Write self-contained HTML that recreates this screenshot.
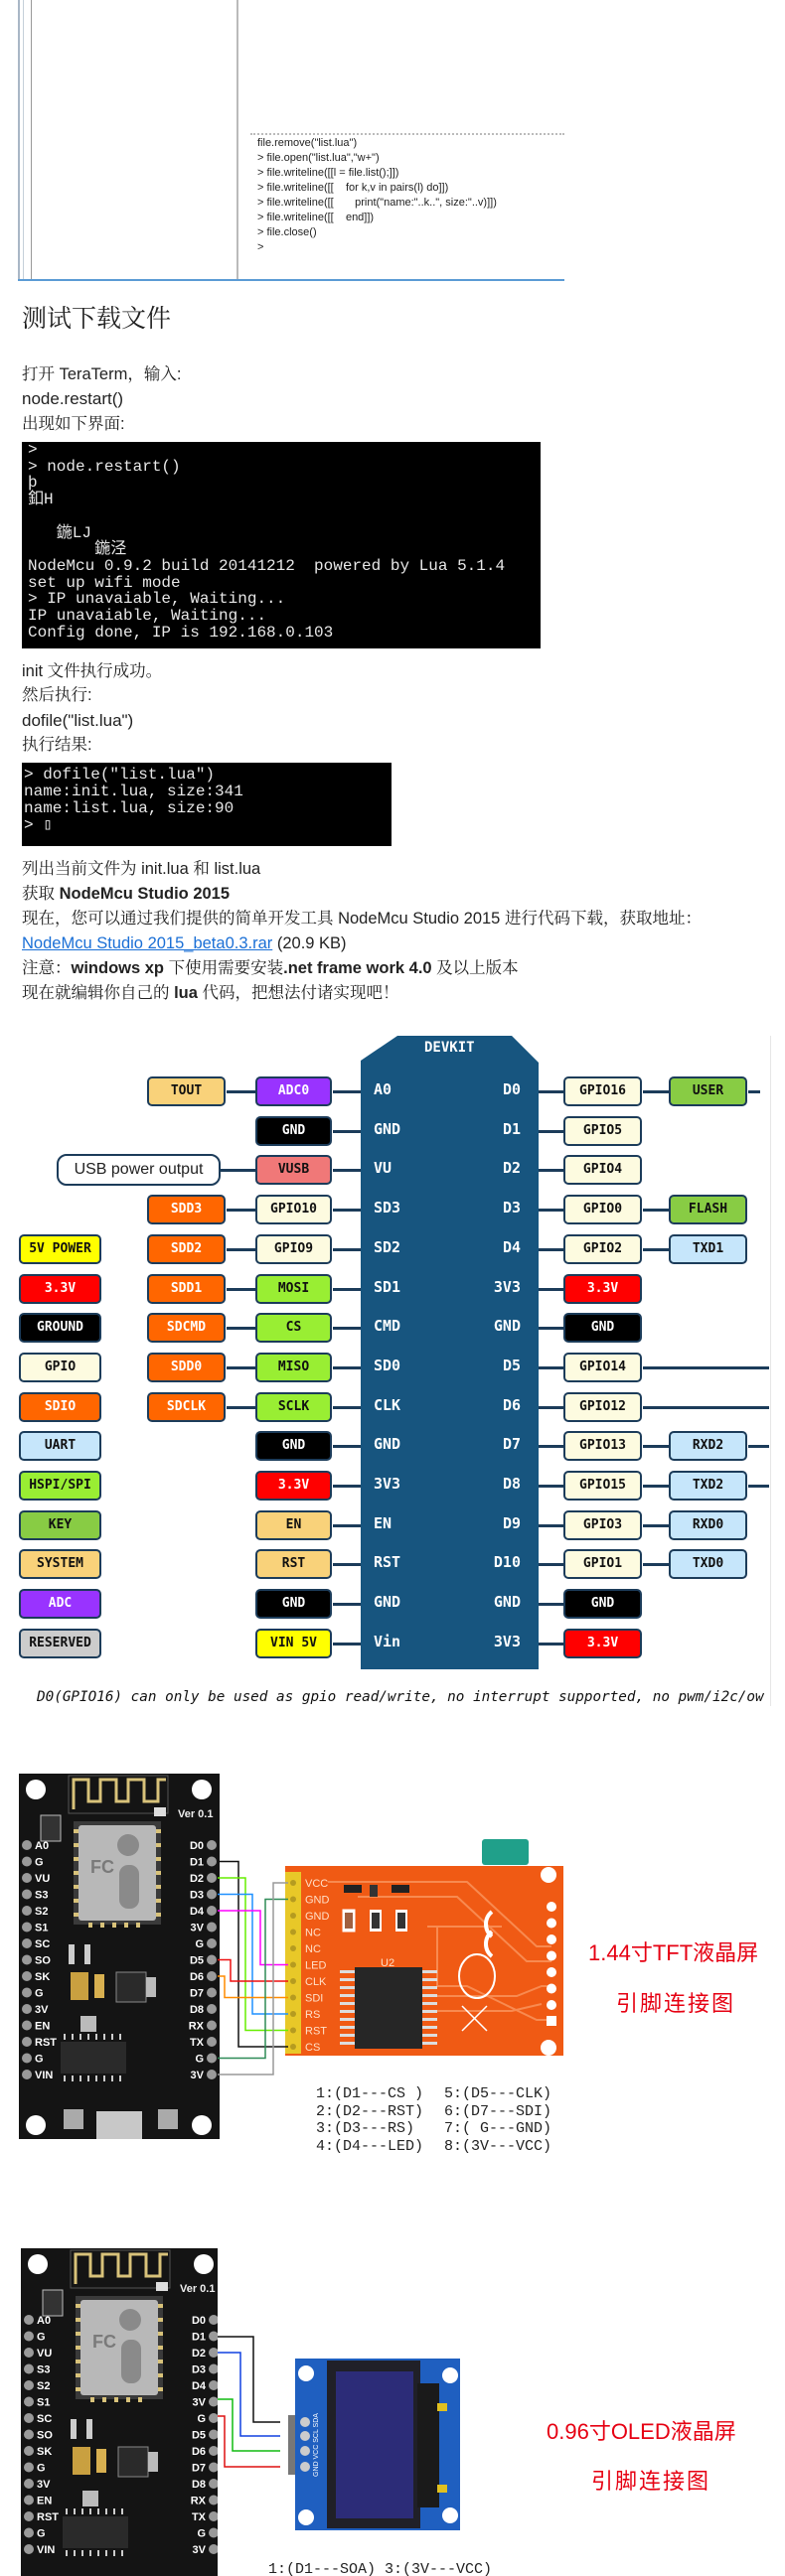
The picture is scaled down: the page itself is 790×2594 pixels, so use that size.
<!DOCTYPE html>
<html><head><meta charset="utf-8">
<style>
html,body{margin:0;padding:0;background:#fff;}
body{width:790px;height:2594px;position:relative;overflow:hidden;font-family:"Liberation Sans","Noto Serif CJK SC",serif;color:#222;}
.a{position:absolute;white-space:nowrap;}
.t{font-size:16.5px;font-family:"Liberation Sans","Noto Serif CJK SC",serif;line-height:20px;}
.term{position:absolute;background:#000;color:#e8e8e8;font-family:"Liberation Mono",monospace;font-size:16px;white-space:pre;overflow:hidden;}
.b{position:absolute;height:26px;border:2.5px solid #1c3c5a;border-radius:5px;font:bold 13px "DejaVu Sans Mono",monospace;text-align:center;line-height:26px;color:#111;}
.w{color:#fff;}
.ln{position:absolute;height:3px;background:#1c3c5a;}
.pl{position:absolute;font:bold 15px "DejaVu Sans Mono",monospace;color:#fff;}
.code{position:absolute;font:11px "Liberation Sans",sans-serif;color:#222;line-height:15px;white-space:pre;}
</style></head><body>

<!-- top editor fragment -->
<div class="a" style="left:18px;top:0;width:2px;height:282px;background:#a9b7c6"></div>
<div class="a" style="left:23px;top:0;width:1px;height:282px;background:#c5cfd9"></div>
<div class="a" style="left:31px;top:0;width:1px;height:282px;background:#999"></div>
<div class="a" style="left:238px;top:0;width:2px;height:282px;background:#bbb"></div>
<div class="a" style="left:252px;top:134px;width:316px;height:0;border-top:2px dotted #bbb"></div>
<div class="code" style="left:259px;top:137px;">file.remove("list.lua")
&gt; file.open("list.lua","w+")
&gt; file.writeline([[l = file.list();]])
&gt; file.writeline([[    for k,v in pairs(l) do]])
&gt; file.writeline([[       print("name:"..k..", size:"..v)]])
&gt; file.writeline([[    end]])
&gt; file.close()
&gt;</div>
<div class="a" style="left:18px;top:281px;width:550px;height:2px;background:#5b9bd5"></div>

<div class="a" style="left:22px;top:302px;font-size:25px;font-family:'Noto Serif CJK SC',serif;line-height:34px;">测试下载文件</div>
<div class="a t" style="left:22px;top:367px;">打开 TeraTerm，输入:</div>
<div class="a" style="left:22px;top:392px;font-size:17px;">node.restart()</div>
<div class="a t" style="left:22px;top:417px;">出现如下界面:</div>
<div class="term" style="left:22px;top:445px;width:522px;height:208px;line-height:16.7px;padding-left:6px;box-sizing:border-box;">&gt;
&gt; node.restart()
þ
釦H

   鍦LJ
       鍦泾
NodeMcu 0.9.2 build 20141212  powered by Lua 5.1.4
set up wifi mode
&gt; IP unavaiable, Waiting...
IP unavaiable, Waiting...
Config done, IP is 192.168.0.103</div>
<div class="a t" style="left:22px;top:666px;">init 文件执行成功。</div>
<div class="a t" style="left:22px;top:690px;">然后执行:</div>
<div class="a" style="left:22px;top:716px;font-size:17px;">dofile("list.lua")</div>
<div class="a t" style="left:22px;top:740px;">执行结果:</div>
<div class="term" style="left:22px;top:768px;width:372px;height:84px;line-height:17px;padding:4px 0 0 2px;box-sizing:border-box;">&gt; dofile("list.lua")
name:init.lua, size:341
name:list.lua, size:90
&gt; ▯</div>
<div class="a t" style="left:22px;top:865px;">列出当前文件为 init.lua 和 list.lua</div>
<div class="a t" style="left:22px;top:890px;">获取 <b>NodeMcu Studio 2015</b></div>
<div class="a t" style="left:22px;top:915px;">现在，您可以通过我们提供的简单开发工具 NodeMcu Studio 2015 进行代码下载，获取地址：</div>
<div class="a t" style="left:22px;top:940px;"><span style="color:#1a6fd6;text-decoration:underline">NodeMcu Studio 2015_beta0.3.rar</span> (20.9 KB)</div>
<div class="a t" style="left:22px;top:965px;">注意：<b>windows xp</b> 下使用需要安装<b>.net frame work 4.0</b> 及以上版本</div>
<div class="a t" style="left:22px;top:990px;">现在就编辑你自己的 <b>lua</b> 代码，把想法付诸实现吧！</div>

<!-- DEVKIT diagram -->
<div class="a" style="left:775px;top:1043px;width:1px;height:675px;background:#e6e6e6"></div>
<svg class="a" style="left:0;top:0" width="790" height="2594">
<polygon points="363,1068 400,1043 515,1043 542,1070 542,1681 363,1681" fill="#17557f"/>
</svg>
<div class="pl" style="left:427px;top:1047px;font-size:14px;">DEVKIT</div>

<div id="dk"></div>

<div class="a" style="left:37px;top:1701px;width:737px;overflow:hidden;font:italic 14.3px 'DejaVu Sans Mono',monospace;color:#111;">D0(GPIO16) can only be used as gpio read/write, no interrupt supported, no pwm/i2c/ow</div>

<script>
(function(){
var y0=1099,st=39.7,h='';
function box(x,w,y,bg,txt,white){h+='<div class="b'+(white?' w':'')+'" style="left:'+x+'px;top:'+(y-15)+'px;width:'+(w-5)+'px;background:'+bg+'">'+txt+'</div>';}
function ln(x1,x2,y){h+='<div class="ln" style="left:'+x1+'px;top:'+(y-1.5)+'px;width:'+(x2-x1)+'px"></div>';}
var CR='#fdfbe0',OR='#ff6600',GR='#99ee33',PE='#f9d27a',K='#88cc44',LB='#c6e6fb',Y='#ffff00',RD='#ff0000',BK='#000',PU='#9933ff';
var L=[[null,['TOUT',PE],['ADC0',PU,1]],[null,null,['GND',BK,1]],[null,null,['VUSB','#f07878']],
[null,['SDD3',OR,1],['GPIO10',CR]],[['5V POWER',Y],['SDD2',OR,1],['GPIO9',CR]],[['3.3V',RD,1],['SDD1',OR,1],['MOSI',GR]],
[['GROUND',BK,1],['SDCMD',OR,1],['CS',GR]],[['GPIO',CR],['SDD0',OR,1],['MISO',GR]],[['SDIO',OR,1],['SDCLK',OR,1],['SCLK',GR]],
[['UART',LB],null,['GND',BK,1]],[['HSPI/SPI',GR],null,['3.3V',RD,1]],[['KEY',K],null,['EN',PE]],[['SYSTEM',PE],null,['RST',PE]],
[['ADC',PU,1],null,['GND',BK,1]],[['RESERVED','#cccccc'],null,['VIN 5V',Y]]];
var LP=['A0','GND','VU','SD3','SD2','SD1','CMD','SD0','CLK','GND','3V3','EN','RST','GND','Vin'];
var RP=['D0','D1','D2','D3','D4','3V3','GND','D5','D6','D7','D8','D9','D10','GND','3V3'];
var RG=[['GPIO16',CR],['GPIO5',CR],['GPIO4',CR],['GPIO0',CR],['GPIO2',CR],['3.3V',RD,1],['GND',BK,1],['GPIO14',CR],['GPIO12',CR],['GPIO13',CR],['GPIO15',CR],['GPIO3',CR],['GPIO1',CR],['GND',BK,1],['3.3V',RD,1]];
var RO={0:['USER',K],3:['FLASH',K],4:['TXD1',LB],9:['RXD2',LB],10:['TXD2',LB],11:['RXD0',LB],12:['TXD0',LB]};
for(var i=0;i<15;i++){var y=Math.round(y0+st*i),r=L[i];
 if(r[1]){ln(228,257,y);}
 if(i==2){ln(222,257,y);}
 ln(335,363,y);ln(542,567,y);
 if(RO[i]){ln(647,673,y);}
 if(i==0)ln(753,765,y);
 if(i==7||i==8)ln(647,774,y);
 if(i==9||i==10)ln(753,774,y);
 if(r[0])box(19,84,y,r[0][1],r[0][0],r[0][2]);
 if(r[1])box(148,80,y,r[1][1],r[1][0],r[1][2]);
 box(257,78,y,r[2][1],r[2][0],r[2][2]);
 box(567,80,y,RG[i][1],RG[i][0],RG[i][2]);
 if(RO[i])box(673,80,y,RO[i][1],RO[i][0],RO[i][2]);
 h+='<div class="pl" style="left:376px;top:'+(y-11)+'px">'+LP[i]+'</div>';
 h+='<div class="pl" style="left:460px;width:64px;text-align:right;top:'+(y-11)+'px">'+RP[i]+'</div>';
}
h+='<div class="a" style="left:57px;top:'+(Math.round(y0+st*2)-16)+'px;width:161px;height:28px;border:2.5px solid #1c3c5a;border-radius:10px;background:#fff;font:16px \'Liberation Sans\',sans-serif;text-align:center;line-height:28px;">USB power output</div>';
document.getElementById('dk').outerHTML=h;
})();
</script>

<!-- boards -->
<svg class="a" style="left:0;top:0" width="790" height="2594" font-family="Liberation Sans,sans-serif">
<defs>
<g id="board">
<rect x="0" y="0" width="202" height="380" fill="#141414"/>
<circle cx="17" cy="16" r="10" fill="#fff"/><circle cx="184" cy="16" r="10" fill="#fff"/>
<circle cx="17" cy="354" r="10" fill="#fff"/><circle cx="184" cy="354" r="10" fill="#fff"/>
<rect x="50" y="2" width="100" height="38" fill="none" stroke="#555" stroke-width="1"/>
<path d="M55 36 V6 H70 V28 H82 V6 H98 V28 H110 V6 H126 V28 H140 V6 H148" fill="none" stroke="#d8c27a" stroke-width="3"/>
<text x="160" y="44" fill="#eee" font-size="11" font-weight="bold">Ver 0.1</text>
<rect x="136" y="34" width="12" height="9" fill="#ddd"/>
<rect x="22" y="42" width="20" height="26" fill="#333" stroke="#bbb"/>
<rect x="55" y="48" width="88" height="104" fill="#3a3a3a"/>
<rect x="60" y="52" width="78" height="96" rx="3" fill="#b8b8b8"/>
<circle cx="110" cy="72" r="11" fill="#8a8a8a"/>
<rect x="101" y="92" width="20" height="44" rx="9" fill="#8a8a8a"/>
<text x="72" y="100" fill="#7a7a7a" font-size="18" font-weight="bold">FC</text>
<g fill="#d8c27a">
<rect x="55" y="56" width="5" height="4"/><rect x="55" y="70" width="5" height="4"/><rect x="55" y="84" width="5" height="4"/><rect x="55" y="98" width="5" height="4"/><rect x="55" y="112" width="5" height="4"/><rect x="55" y="126" width="5" height="4"/><rect x="55" y="140" width="5" height="4"/>
<rect x="138" y="56" width="5" height="4"/><rect x="138" y="70" width="5" height="4"/><rect x="138" y="84" width="5" height="4"/><rect x="138" y="98" width="5" height="4"/><rect x="138" y="112" width="5" height="4"/><rect x="138" y="126" width="5" height="4"/><rect x="138" y="140" width="5" height="4"/>
<rect x="70" y="150" width="4" height="5"/><rect x="82" y="150" width="4" height="5"/><rect x="94" y="150" width="4" height="5"/><rect x="106" y="150" width="4" height="5"/><rect x="118" y="150" width="4" height="5"/>
</g>
<rect x="50" y="172" width="6" height="20" fill="#ccc"/><rect x="66" y="172" width="6" height="20" fill="#ccc"/>
<rect x="52" y="200" width="18" height="28" fill="#c9a040"/><rect x="76" y="202" width="10" height="24" fill="#d8b050"/>
<rect x="98" y="200" width="30" height="30" fill="#2a2a2a" stroke="#888"/>
<rect x="128" y="205" width="10" height="20" fill="#bbb"/>
<rect x="62" y="244" width="16" height="16" fill="#bbb"/>
<rect x="42" y="270" width="66" height="32" fill="#2a2a2a"/>
<g stroke="#ccc" stroke-width="2"><path d="M46 262v6M54 262v6M62 262v6M70 262v6M78 262v6M86 262v6M94 262v6M102 262v6M46 304v6M54 304v6M62 304v6M70 304v6M78 304v6M86 304v6M94 304v6M102 304v6"/></g>
<rect x="45" y="338" width="20" height="20" fill="#aaa"/><rect x="140" y="338" width="20" height="20" fill="#aaa"/>
<rect x="78" y="340" width="46" height="40" fill="#c8c8c8"/>
<g fill="#9a9a9a">
<circle cx="8" cy="72" r="5"/><circle cx="8" cy="88.5" r="5"/><circle cx="8" cy="105" r="5"/><circle cx="8" cy="121.5" r="5"/><circle cx="8" cy="138" r="5"/><circle cx="8" cy="154.5" r="5"/><circle cx="8" cy="171" r="5"/><circle cx="8" cy="187.5" r="5"/><circle cx="8" cy="204" r="5"/><circle cx="8" cy="220.5" r="5"/><circle cx="8" cy="237" r="5"/><circle cx="8" cy="253.5" r="5"/><circle cx="8" cy="270" r="5"/><circle cx="8" cy="286.5" r="5"/><circle cx="8" cy="303" r="5"/>
<circle cx="194" cy="72" r="5"/><circle cx="194" cy="88.5" r="5"/><circle cx="194" cy="105" r="5"/><circle cx="194" cy="121.5" r="5"/><circle cx="194" cy="138" r="5"/><circle cx="194" cy="154.5" r="5"/><circle cx="194" cy="171" r="5"/><circle cx="194" cy="187.5" r="5"/><circle cx="194" cy="204" r="5"/><circle cx="194" cy="220.5" r="5"/><circle cx="194" cy="237" r="5"/><circle cx="194" cy="253.5" r="5"/><circle cx="194" cy="270" r="5"/><circle cx="194" cy="286.5" r="5"/><circle cx="194" cy="303" r="5"/>
</g>
<g fill="#fff" font-size="11" font-weight="bold">
<text x="16" y="76">A0</text><text x="16" y="92.5">G</text><text x="16" y="109">VU</text><text x="16" y="125.5">S3</text><text x="16" y="142">S2</text><text x="16" y="158.5">S1</text><text x="16" y="175">SC</text><text x="16" y="191.5">SO</text><text x="16" y="208">SK</text><text x="16" y="224.5">G</text><text x="16" y="241">3V</text><text x="16" y="257.5">EN</text><text x="16" y="274">RST</text><text x="16" y="290.5">G</text><text x="16" y="307">VIN</text>
</g>
<g fill="#fff" font-size="11" font-weight="bold" text-anchor="end">
<text x="186" y="76">D0</text><text x="186" y="92.5">D1</text><text x="186" y="109">D2</text><text x="186" y="125.5">D3</text><text x="186" y="142">D4</text><text x="186" y="158.5">3V</text><text x="186" y="175">G</text><text x="186" y="191.5">D5</text><text x="186" y="208">D6</text><text x="186" y="224.5">D7</text><text x="186" y="241">D8</text><text x="186" y="257.5">RX</text><text x="186" y="274">TX</text><text x="186" y="290.5">G</text><text x="186" y="307">3V</text>
</g>
</g>
</defs>

<!-- board 1 + TFT -->
<svg x="19" y="1786" width="202" height="368" overflow="hidden"><use href="#board"/></svg>
<rect x="485" y="1852" width="47" height="26" rx="3" fill="#20a08a"/>
<rect x="287" y="1879" width="280" height="191" fill="#f05a14"/>
<g fill="none" stroke="#f88a50" stroke-width="2">
<path d="M330 1895 H470 L540 1960 H555"/><path d="M360 1910 H460 L530 1975 H555"/><path d="M430 1940 H505"/><path d="M440 1940 V2000 H470 L540 2034 H555"/><path d="M425 2010 H520 L545 2000 H555"/><path d="M425 2025 H515 L545 2018"/>
</g>
<rect x="287" y="1885" width="16" height="183" fill="#e8c828"/>
<g fill="#b59b20"><circle cx="295" cy="1896" r="3"/><circle cx="295" cy="1912.5" r="3"/><circle cx="295" cy="1929" r="3"/><circle cx="295" cy="1945.5" r="3"/><circle cx="295" cy="1962" r="3"/><circle cx="295" cy="1978.5" r="3"/><circle cx="295" cy="1995" r="3"/><circle cx="295" cy="2011.5" r="3"/><circle cx="295" cy="2028" r="3"/><circle cx="295" cy="2044.5" r="3"/><circle cx="295" cy="2061" r="3"/></g>
<g fill="#ffe0c8" font-size="11">
<text x="307" y="1900">VCC</text><text x="307" y="1916.5">GND</text><text x="307" y="1933">GND</text><text x="307" y="1949.5">NC</text><text x="307" y="1966">NC</text><text x="307" y="1982.5">LED</text><text x="307" y="1999">CLK</text><text x="307" y="2015.5">SDI</text><text x="307" y="2032">RS</text><text x="307" y="2048.5">RST</text><text x="307" y="2065">CS</text>
</g>
<rect x="346" y="1898" width="18" height="8" fill="#222"/><rect x="394" y="1898" width="18" height="8" fill="#222"/><rect x="372" y="1898" width="8" height="12" fill="#333"/>
<rect x="345" y="1923" width="12" height="22" fill="#fff" stroke="#fff"/><rect x="347" y="1926" width="8" height="16" fill="#a06040"/>
<rect x="372" y="1923" width="12" height="22" fill="#fff"/><rect x="374" y="1926" width="8" height="16" fill="#333"/>
<rect x="398" y="1923" width="12" height="22" fill="#fff"/><rect x="400" y="1926" width="8" height="16" fill="#333"/>
<text x="383" y="1980" fill="#ffe0c8" font-size="11">U2</text>
<g fill="#ddd"><rect x="342" y="1984" width="18" height="3"/><rect x="342" y="1992" width="18" height="3"/><rect x="342" y="2000" width="18" height="3"/><rect x="342" y="2008" width="18" height="3"/><rect x="342" y="2016" width="18" height="3"/><rect x="342" y="2024" width="18" height="3"/><rect x="342" y="2032" width="18" height="3"/><rect x="342" y="2040" width="18" height="3"/><rect x="342" y="2048" width="18" height="3"/><rect x="342" y="2056" width="18" height="3"/>
<rect x="422" y="1984" width="18" height="3"/><rect x="422" y="1992" width="18" height="3"/><rect x="422" y="2000" width="18" height="3"/><rect x="422" y="2008" width="18" height="3"/><rect x="422" y="2016" width="18" height="3"/><rect x="422" y="2024" width="18" height="3"/><rect x="422" y="2032" width="18" height="3"/><rect x="422" y="2040" width="18" height="3"/><rect x="422" y="2048" width="18" height="3"/><rect x="422" y="2056" width="18" height="3"/></g>
<rect x="357" y="1981" width="68" height="82" fill="#262626"/>
<g fill="none" stroke="#fff" stroke-width="4"><path d="M495 1925 A16 16 0 0 0 495 1950"/><path d="M495 1945 A16 16 0 0 0 495 1970"/></g>
<ellipse cx="480" cy="1990" rx="18" ry="22" fill="none" stroke="#fff" stroke-width="2"/>
<path d="M465 2020 L490 2045 M490 2020 L465 2045" stroke="#fff" stroke-width="1.5"/>
<circle cx="552" cy="1888" r="8" fill="#fff"/><circle cx="552" cy="2062" r="8" fill="#fff"/>
<g fill="#fff"><circle cx="555" cy="1920" r="5"/><circle cx="555" cy="1936.5" r="5"/><circle cx="555" cy="1953" r="5"/><circle cx="555" cy="1969.5" r="5"/><circle cx="555" cy="1986" r="5"/><circle cx="555" cy="2002.5" r="5"/><circle cx="555" cy="2019" r="5"/><rect x="550" y="2030" width="10" height="10"/></g>
<g fill="none" stroke-width="1.5">
<path d="M219 1874.5 H240 V2061 H290" stroke="#111"/>
<path d="M219 1891 H247 V2044.5 H290" stroke="#66ee00"/>
<path d="M219 1907.5 H254 V2028 H290" stroke="#1e90ff"/>
<path d="M219 1924 H262 V1978.5 H290" stroke="#ff00ff"/>
<path d="M219 1973.5 H232 V1995 H290" stroke="#ee1111"/>
<path d="M219 1990 H226 V2011.5 H290" stroke="#ff8c00"/>
<path d="M219 2072.5 H267 V1912.5 H290" stroke="#2e8b57"/>
<path d="M219 2089 H275 V1896 H290" stroke="#999"/>
</g>
<g fill="#e60012" font-family="Liberation Sans,Noto Sans CJK SC,sans-serif" font-size="22">
<text x="592" y="1974">1.44寸TFT液晶屏</text>
<text x="620" y="2025" letter-spacing="2">引脚连接图</text>
<text x="550" y="2456">0.96寸OLED液晶屏</text>
<text x="595" y="2506" letter-spacing="2">引脚连接图</text>
</g>
<g fill="#222" font-family="Liberation Mono,monospace" font-size="15">
<text x="318" y="2112">1:(D1---CS )</text><text x="318" y="2130">2:(D2---RST)</text><text x="318" y="2147">3:(D3---RS)</text><text x="318" y="2165">4:(D4---LED)</text>
<text x="447" y="2112">5:(D5---CLK)</text><text x="447" y="2130">6:(D7---SDI)</text><text x="447" y="2147">7:( G---GND)</text><text x="447" y="2165">8:(3V---VCC)</text>
<text x="270" y="2591">1:(D1---SOA) 3:(3V---VCC)</text>
</g>

<!-- board 2 + OLED -->
<svg x="21" y="2264" width="198" height="330" overflow="hidden"><use href="#board"/></svg>
<rect x="297" y="2375" width="166" height="173" fill="#1f5fc0"/>
<rect x="329" y="2377" width="94" height="169" fill="#202028"/>
<rect x="338" y="2388" width="78" height="148" fill="#2c2c78"/>
<rect x="420" y="2400" width="22" height="125" fill="#1a1a1a"/>
<rect x="440" y="2420" width="10" height="8" fill="#e0c020"/><rect x="440" y="2502" width="10" height="8" fill="#e0c020"/>
<circle cx="308" cy="2390" r="8" fill="#fff"/><circle cx="453" cy="2392" r="8" fill="#fff"/><circle cx="308" cy="2535" r="8" fill="#fff"/><circle cx="453" cy="2533" r="8" fill="#fff"/>
<rect x="290" y="2432" width="7" height="60" fill="#777"/>
<g fill="#ccc"><circle cx="307" cy="2439" r="5"/><circle cx="307" cy="2453" r="5"/><circle cx="307" cy="2468" r="5"/><circle cx="307" cy="2484" r="5"/></g>
<text x="0" y="0" fill="#fff" font-size="7" transform="translate(320,2494) rotate(-90)">GND VCC SCL SDA</text>
<g fill="none" stroke-width="1.5">
<path d="M219 2353 H255 V2439 H282" stroke="#111"/>
<path d="M219 2369 H242 V2453 H282" stroke="#1040e0"/>
<path d="M219 2416 H234 V2468 H282" stroke="#11bb11"/>
<path d="M219 2433 H226 V2484 H282" stroke="#dd1111"/>
</g>
</svg>
</body></html>
